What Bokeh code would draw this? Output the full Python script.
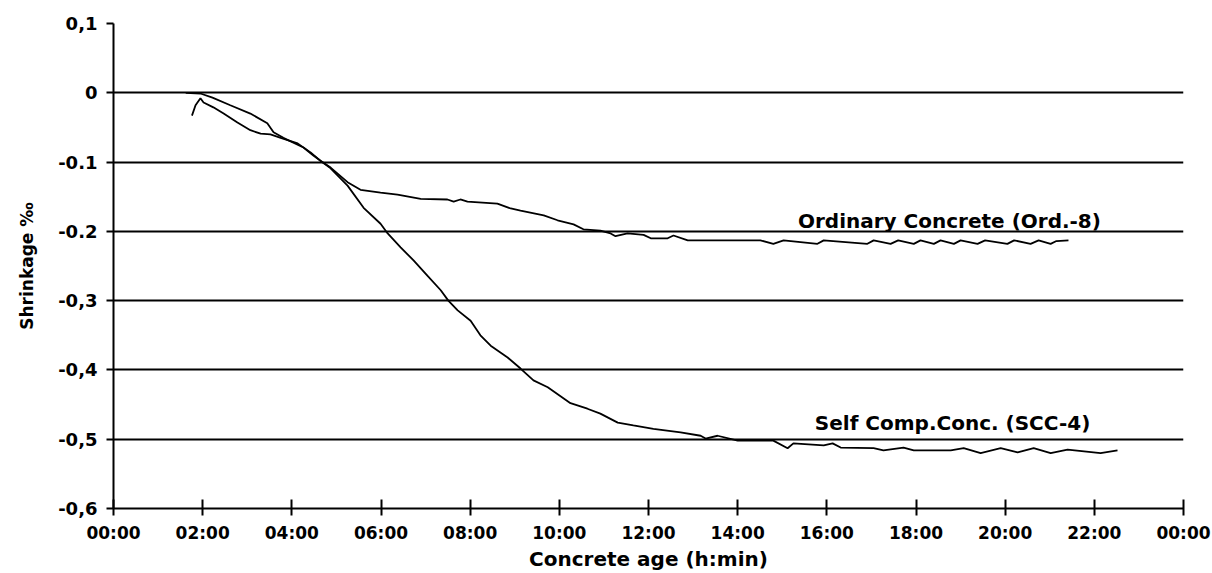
from bokeh.plotting import figure
from bokeh.models import Range1d, FixedTicker, ColumnDataSource
from bokeh.core.properties import value
from bokeh.embed import file_html
from bokeh.resources import INLINE

# Concrete age (hours) and shrinkage (per mille)
ord_hours = [1.76, 1.84, 1.95, 2.02, 2.24, 2.47, 2.78, 3.07, 3.30, 3.52, 3.75, 4.13, 4.42, 4.64,
             4.87, 5.25, 5.54, 5.99, 6.37, 6.89, 7.49, 7.63, 7.78, 7.94, 8.61, 8.91, 9.13, 9.65,
             9.96, 10.32, 10.54, 10.92, 11.15, 11.26, 11.53, 11.89, 12.05, 12.43, 12.56, 12.88,
             14.51, 14.80, 15.03, 15.79, 15.93, 16.91, 17.05, 17.43, 17.60, 17.95, 18.10, 18.40,
             18.55, 18.85, 19.00, 19.38, 19.55, 20.05, 20.20, 20.57, 20.75, 21.02, 21.15, 21.42]
ord_vals = [-0.033, -0.018, -0.008, -0.014, -0.021, -0.030, -0.043, -0.054, -0.059, -0.060, -0.065,
            -0.073, -0.086, -0.098, -0.108, -0.129, -0.140, -0.144, -0.147, -0.153, -0.154, -0.157,
            -0.154, -0.157, -0.160, -0.167, -0.170, -0.177, -0.184, -0.190, -0.197, -0.199, -0.203,
            -0.207, -0.203, -0.205, -0.210, -0.210, -0.206, -0.213, -0.213, -0.218, -0.213, -0.218,
            -0.213, -0.218, -0.213, -0.218, -0.213, -0.218, -0.213, -0.218, -0.213, -0.218, -0.213,
            -0.218, -0.213, -0.218, -0.213, -0.218, -0.213, -0.218, -0.214, -0.213]

scc_hours = [1.62, 1.95, 2.22, 2.62, 3.07, 3.45, 3.59, 3.81, 4.26, 4.49, 4.87, 5.25, 5.61, 5.99,
             6.15, 6.44, 6.73, 7.04, 7.34, 7.51, 7.72, 8.01, 8.23, 8.46, 8.84, 9.13, 9.42, 9.74,
             10.25, 10.63, 10.92, 11.31, 11.66, 12.11, 12.72, 13.17, 13.28, 13.55, 14.00, 14.80,
             15.12, 15.25, 15.93, 16.13, 16.31, 17.05, 17.27, 17.72, 17.95, 18.78, 19.07, 19.45,
             19.90, 20.28, 20.64, 21.02, 21.40, 22.14, 22.52]
scc_vals = [0.000, -0.001, -0.007, -0.018, -0.030, -0.044, -0.057, -0.065, -0.079, -0.091, -0.109,
            -0.134, -0.166, -0.189, -0.203, -0.223, -0.242, -0.264, -0.285, -0.300, -0.314, -0.329,
            -0.350, -0.365, -0.382, -0.398, -0.415, -0.425, -0.448, -0.456, -0.463, -0.476, -0.480,
            -0.485, -0.490, -0.495, -0.499, -0.495, -0.502, -0.502, -0.513, -0.506, -0.509, -0.506,
            -0.512, -0.513, -0.516, -0.512, -0.516, -0.516, -0.513, -0.520, -0.513, -0.519, -0.513,
            -0.520, -0.515, -0.520, -0.516]

series_labels = ["Ordinary Concrete (Ord.-8)", "Self Comp.Conc. (SCC-4)"]
label_hours = [18.75, 18.82]
label_vals = [-0.185, -0.477]

x_ticks = [0, 2, 4, 6, 8, 10, 12, 14, 16, 18, 20, 22, 24]
x_tick_labels = ["00:00", "02:00", "04:00", "06:00", "08:00", "10:00", "12:00",
                 "14:00", "16:00", "18:00", "20:00", "22:00", "00:00"]
y_ticks = [0.1, 0.0, -0.1, -0.2, -0.3, -0.4, -0.5, -0.6]
y_tick_labels = ["0,1", "0", "-0.1", "-0.2", "-0,3", "-0,4", "-0,5", "-0,6"]
grid_vals = [0.0, -0.1, -0.2, -0.3, -0.4, -0.5]

FONT = "DejaVu Sans"

p = figure(width=1212, height=573, output_backend="svg", toolbar_location=None,
           x_range=Range1d(0, 24), y_range=Range1d(-0.6, 0.1),
           min_border_left=113, min_border_right=29, min_border_top=23, min_border_bottom=65)
p.outline_line_color = None
p.background_fill_color = "white"
p.border_fill_color = "white"

p.xgrid.visible = False
p.ygrid.ticker = FixedTicker(ticks=grid_vals)
p.ygrid.grid_line_color = "black"
p.ygrid.grid_line_width = 2

# x axis
p.xaxis.ticker = FixedTicker(ticks=x_ticks)
p.xaxis.major_label_overrides = {t: l for t, l in zip(x_ticks, x_tick_labels)}
p.xaxis.axis_label = "Concrete age (h:min)"
p.xaxis.minor_tick_line_color = None
p.xaxis.major_tick_in = 9
p.xaxis.major_tick_out = 7
p.xaxis.axis_line_width = 2
p.xaxis.major_tick_line_width = 2
p.xaxis.axis_line_color = "black"
p.xaxis.major_tick_line_color = "black"
p.xaxis.major_label_standoff = 7
p.xaxis.axis_label_standoff = 1
p.xaxis.major_label_text_font = FONT
p.xaxis.major_label_text_font_style = "bold"
p.xaxis.major_label_text_font_size = "17px"
p.xaxis.major_label_text_color = "black"
p.xaxis.axis_label_text_font = FONT
p.xaxis.axis_label_text_font_style = "bold"
p.xaxis.axis_label_text_font_size = "20px"
p.xaxis.axis_label_text_color = "black"

# y axis
p.yaxis.ticker = FixedTicker(ticks=y_ticks)
p.yaxis.major_label_overrides = {t: l for t, l in zip(y_ticks, y_tick_labels)}
p.yaxis.axis_label = "Shrinkage \u2030"
p.yaxis.minor_tick_line_color = None
p.yaxis.major_tick_in = 0
p.yaxis.major_tick_out = 7
p.yaxis.axis_line_width = 2
p.yaxis.major_tick_line_width = 2
p.yaxis.axis_line_color = "black"
p.yaxis.major_tick_line_color = "black"
p.yaxis.major_label_standoff = 9
p.yaxis.axis_label_standoff = 18
p.yaxis.major_label_text_font = FONT
p.yaxis.major_label_text_font_style = "bold"
p.yaxis.major_label_text_font_size = "18px"
p.yaxis.major_label_text_color = "black"
p.yaxis.axis_label_text_font = FONT
p.yaxis.axis_label_text_font_style = "bold"
p.yaxis.axis_label_text_font_size = "17px"
p.yaxis.axis_label_text_color = "black"

p.line(ord_hours, ord_vals, line_color="black", line_width=1.8)
p.line(scc_hours, scc_vals, line_color="black", line_width=1.8)

src = ColumnDataSource(dict(x=label_hours, y=label_vals, t=series_labels))
p.text(x="x", y="y", text="t", source=src, text_font=value(FONT), text_font_style="bold",
       text_font_size="20px", text_align="center", text_baseline="middle", text_color="black")

open("out.html", "w").write(file_html(p, INLINE))
